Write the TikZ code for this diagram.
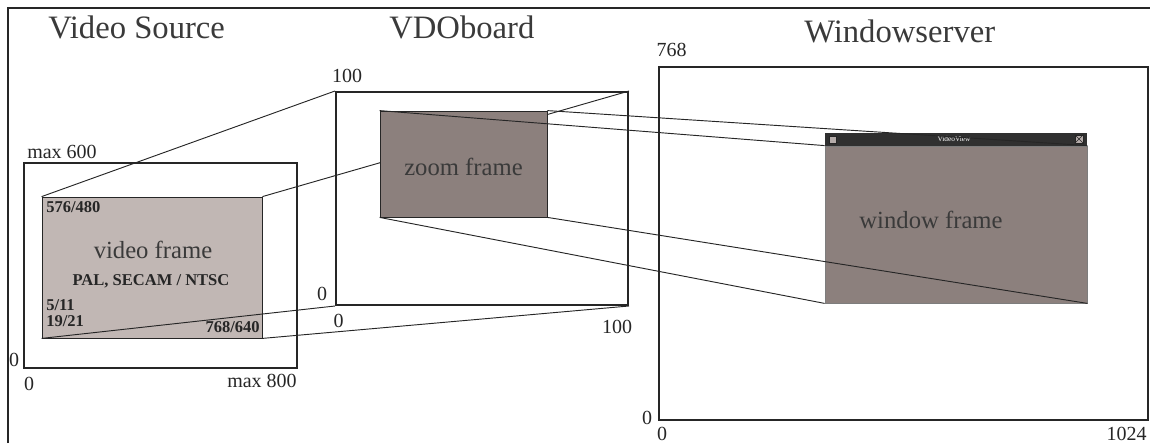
\documentclass[tikz,border=0pt]{standalone}
\usepackage{fontspec}
\setmainfont{Liberation Serif}
\usetikzlibrary{fit}
\definecolor{vlight}{HTML}{C1B7B4}
\definecolor{vdark}{HTML}{8C807D}
\definecolor{ink}{HTML}{262626}
\definecolor{textgray}{HTML}{3A3A3A}
\definecolor{barblack}{HTML}{303030}
\definecolor{iconlight}{HTML}{B5ACAA}
\tikzset{
  outerbox/.style={draw=ink, line width=1.5pt, inner sep=0pt},
  framebox/.style={draw=ink, line width=0.6pt, inner sep=0pt},
  proj/.style={draw=ink, line width=0.7pt},
  title/.style={font=\fontsize{24.5}{28}\selectfont, text=textgray, inner sep=0pt},
  tick/.style={font=\fontsize{15}{17}\selectfont, text=ink, inner sep=0pt},
  ftext/.style={font=\fontsize{18.5}{21}\selectfont, text=textgray, inner sep=0pt},
  btext/.style={font=\fontsize{12.4}{14}\selectfont\bfseries, text=ink, inner sep=0pt},
}
\begin{document}
\begin{tikzpicture}[x=0.75pt, y=-0.75pt]
  \useasboundingbox (0,0) rectangle (1150,443);
  \draw[ink, line width=2.2pt] (8,443) -- (8,8) -- (1150,8);

  \node[title, anchor=base west] (tsrc) at (48,38) {Video Source};
  \node[title, anchor=base west] (tboard) at (389,38.5) {VDOboard};
  \node[title, anchor=base west] (tws) at (804,42) {Windowserver};

  % video source
  \node[outerbox, fit={(24,163) (297,368)}] (srcbox) {};
  \node[framebox, fill=vlight, fit={(42,197) (262,338)}] (vframe) {};
  \node[tick, anchor=base west] (srcmaxy) at (27,158) {max 600};
  \node[tick, anchor=base east] (srcmaxx) at (297,387) {max 800};
  \node[tick, anchor=base] (srcy) at (14,366.5) {0};
  \node[tick, anchor=base] (srcx) at (29,390.5) {0};
  \node[btext, anchor=base west] (vtop) at (46,212) {576/480};
  \node[ftext, anchor=base] (vtxt) at (153,258) {video frame};
  \node[btext, anchor=base] (vnorm) at (151,285.5) {PAL, SECAM / NTSC};
  \node[btext, anchor=base west] (vlines) at (46,310.5) {5/11};
  \node[btext, anchor=base west] (vlinesb) at (46,326.5) {19/21};
  \node[btext, anchor=base east] (vres) at (260,332.5) {768/640};

  % VDOboard
  \node[outerbox, fit={(336,92) (628,305)}] (board) {};
  \node[tick, anchor=base] (bmaxy) at (347,82) {100};
  \node[tick, anchor=base] (by) at (322,300) {0};
  \node[tick, anchor=base] (bx) at (338.5,327) {0};
  \node[tick, anchor=base] (bmaxx) at (617,333) {100};

  \draw[proj] (vframe.north west) -- (board.north west);
  \draw[proj] (vframe.north east) -- (board.north east);
  \draw[proj] (vframe.south west) -- (board.south west);
  \draw[proj] (vframe.south east) -- (board.south east);

  \node[framebox, fill=vdark, fit={(380,111) (547,217)}] (zframe) {};
  \node[ftext, anchor=base] (ztxt) at (463.5,175) {zoom frame};

  % Windowserver
  \node[outerbox, fit={(659,67) (1148,420)}] (ws) {};
  \node[tick, anchor=base] (wsmaxy) at (671.5,56) {768};
  \node[tick, anchor=base] (wsy) at (647,424) {0};
  \node[tick, anchor=base] (wsx) at (662,440.5) {0};
  \node[tick, anchor=base east] (wsmaxx) at (1147,440.5) {1024};

  \node[framebox, draw=ink!60, fill=vdark, fit={(825,146) (1087,303)}] (wbody) {};
  \node[fill=barblack, inner sep=0pt, fit={(825,133) (1087,146)}] (wbar) {};
  \node[draw=ink, fill=iconlight, line width=0.5pt, inner sep=0pt, fit={(829,136) (836,143)}] (wmenu) {};
  \node[draw=ink, fill=iconlight, line width=0.5pt, inner sep=0pt, fit={(1075,135) (1083,143)}] (wclose) {};
  \draw[ink, line width=0.5pt] (wclose.north west) -- (wclose.south east)
    (wclose.north east) -- (wclose.south west);
  \node[font=\fontsize{5.5}{6}\selectfont, text=white, anchor=base, inner sep=0pt] (wname) at (954,141.5) {VideoView};
  \node[ftext, anchor=base] (wtxt) at (931,228) {window frame};

  \draw[proj] (zframe.north west) -- (wbody.north west);
  \draw[proj] (zframe.north east) -- (wbody.north east);
  \draw[proj] (zframe.south west) -- (wbody.south west);
  \draw[proj] (zframe.south east) -- (wbody.south east);
\end{tikzpicture}
\end{document}
